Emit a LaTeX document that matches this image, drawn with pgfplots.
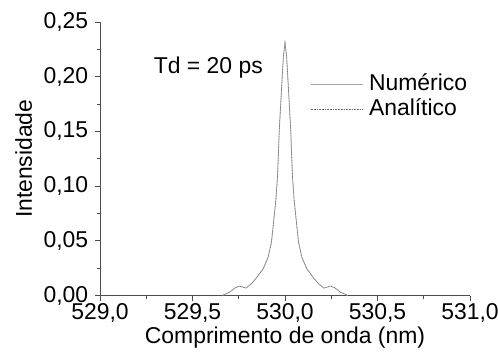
\documentclass[border=0pt]{standalone}
\usepackage{pgfplots}
\pgfplotsset{compat=1.18}
\usepackage{fontspec}
\setmainfont{Liberation Sans}
\pgfplotstableread{
x y
529.66 0
529.70 0.003
529.73 0.007
529.754 0.0086
529.79 0.0068
529.82 0.011
529.845 0.016
529.882 0.0244
529.909 0.035
529.927 0.049
529.940 0.070
529.951 0.088
529.960 0.110
529.969 0.151
529.984 0.197
529.991 0.218
530.000 0.231
530.009 0.218
530.016 0.197
530.031 0.151
530.040 0.110
530.049 0.088
530.060 0.070
530.073 0.049
530.091 0.035
530.118 0.0244
530.155 0.016
530.18 0.011
530.21 0.0068
530.246 0.0086
530.27 0.007
530.30 0.003
530.34 0
}\datatable
\begin{document}
\fontsize{23}{27}\selectfont
\begin{tikzpicture}
\begin{axis}[
  at={(0,0)}, anchor=south west,
  scale only axis,
  width=370bp, height=273.5bp,
  xmin=529, xmax=531, ymin=0, ymax=0.25,
  axis lines*=left,
  axis line style={-, black!70, line width=0.8pt},
  tick style={black!70, line width=0.8pt},
  tick align=outside,
  major tick length=5bp, minor tick length=3bp,
  xtick={529,529.5,530,530.5,531},
  ytick={0,0.05,0.1,0.15,0.2,0.25},
  minor x tick num=1, minor y tick num=1,
  /pgf/number format/assume math mode=true,
  tick label style={font=\fontsize{23}{27}\selectfont},
  label style={font=\fontsize{23}{27}\selectfont},
  xticklabel style={yshift=4.5bp, /pgf/number format/.cd, use comma, fixed, fixed zerofill, precision=1},
  yticklabel style={xshift=1bp, /pgf/number format/.cd, use comma, fixed, fixed zerofill, precision=2},
  xlabel={Comprimento de onda (nm)},
  ylabel={Intensidade},
  xlabel style={yshift=11bp},
  ylabel style={yshift=-4bp},
  legend style={at={(0.5676,0.815)}, anchor=north west, draw=none, fill=none,
    font=\fontsize{23}{27}\selectfont, row sep=3bp, column sep=5bp, inner sep=0pt,
    nodes={inner sep=1bp}},
  legend cell align=left,
  legend image code/.code={\draw[#1] (0bp,0bp) -- (52bp,0bp);},
  clip=false,
]
\addplot[gray!70, line width=0.8pt] table[x=x,y=y] {\datatable};
\addlegendentry{Numérico}
\addplot[black!60, densely dotted, line width=0.6pt] table[x=x,y=y] {\datatable};
\addlegendentry{Analítico}
\node[anchor=base west, inner sep=0pt] at (axis cs:529.29,0.2033) {Td = 20 ps};
\end{axis}
\pgfresetboundingbox
\path (-100bp,-58.5bp) rectangle (398bp,295.5bp);
\end{tikzpicture}
\end{document}
